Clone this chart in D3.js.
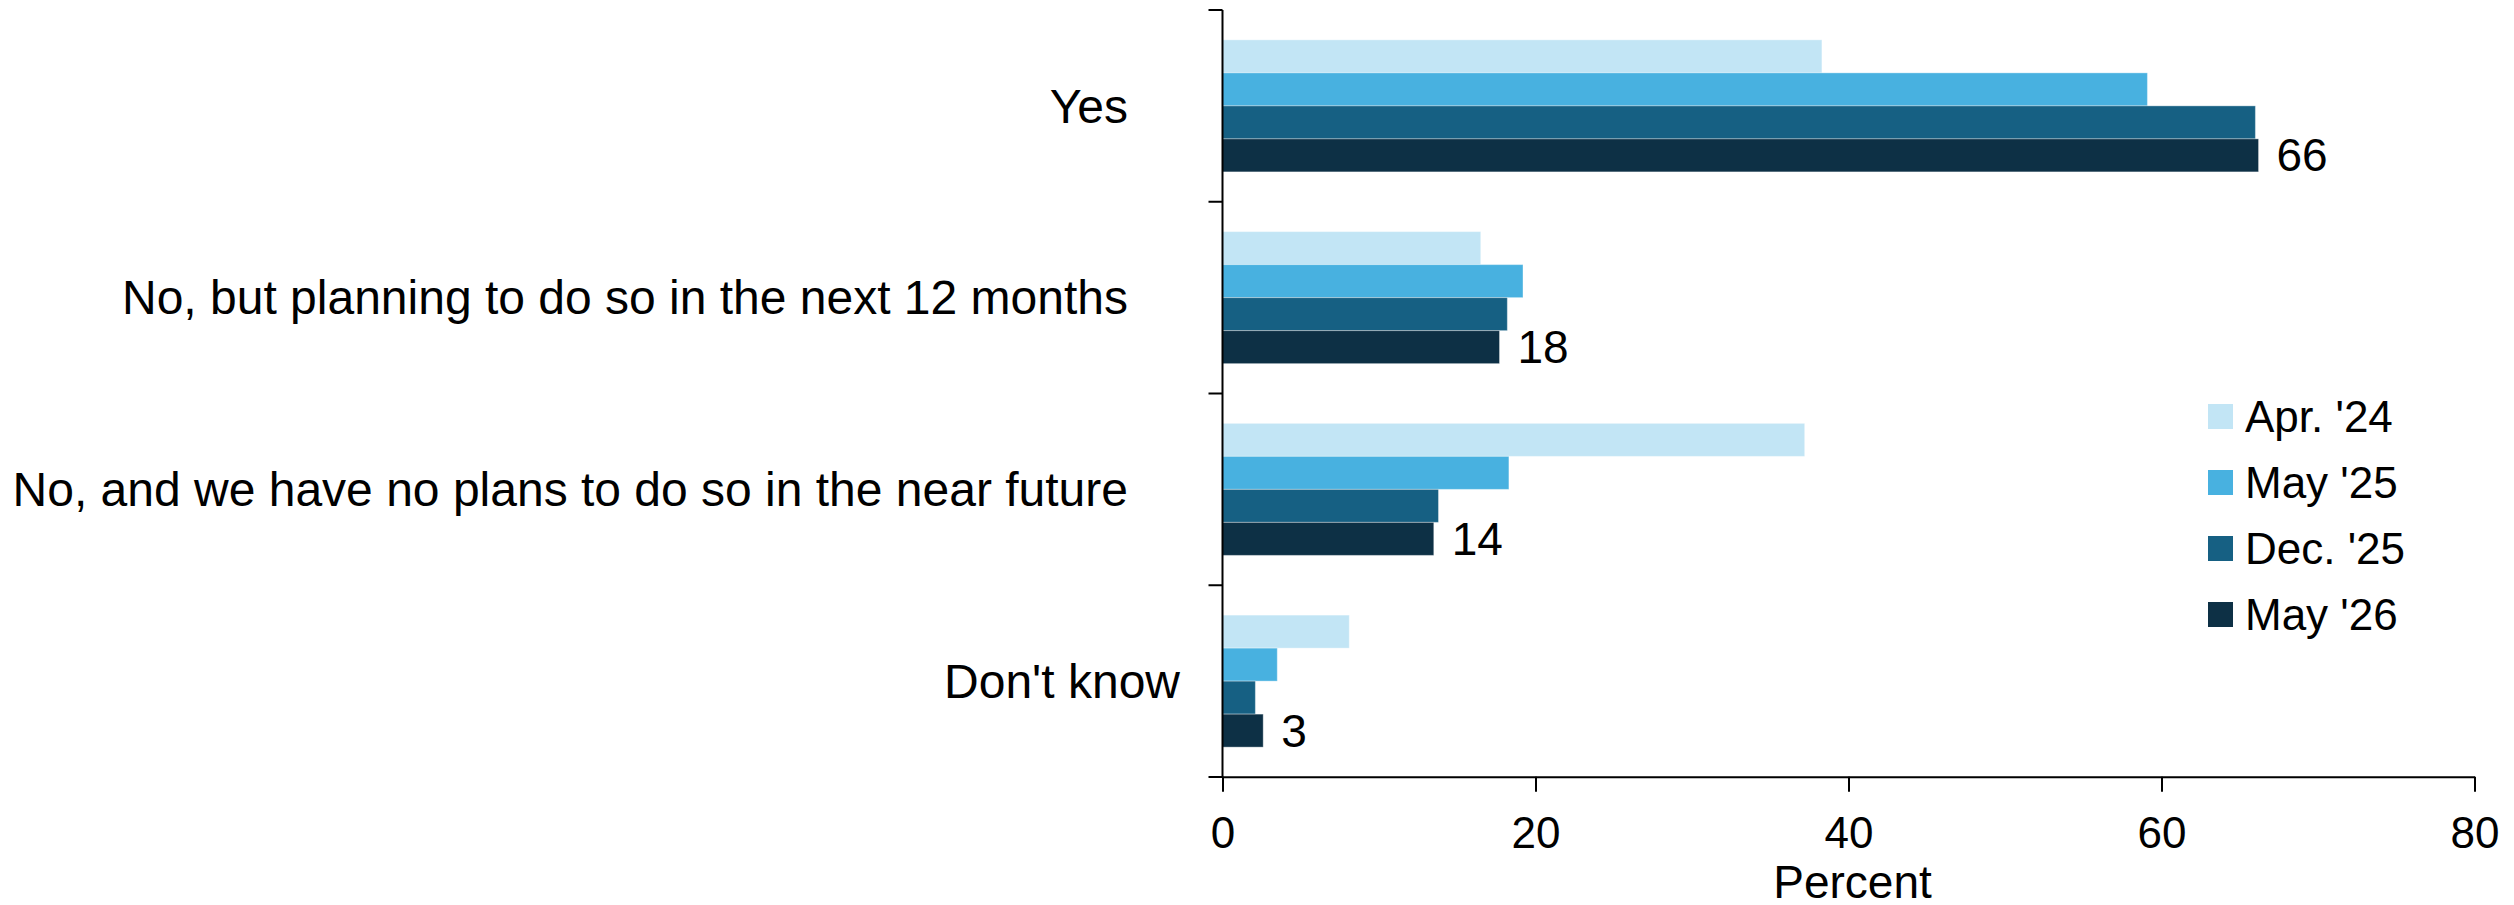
<!DOCTYPE html>
<html>
<head>
<meta charset="utf-8">
<script src="https://cdn.jsdelivr.net/npm/d3@7"></script>
<style>
  body { margin: 0; background: #fff; }
  text { font-family: "Liberation Sans", Arial, sans-serif; fill: #000; }
</style>
</head>
<body>
<script>
const categories = [
  "Yes",
  "No, but planning to do so in the next 12 months",
  "No, and we have no plans to do so in the near future",
  "Don't know"
];
const seriesNames = ["Apr. '24", "May '25", "Dec. '25", "May '26"];
const apr24 = [38.3, 16.5, 37.2, 8.1];
const may25 = [59.1, 19.2, 18.3, 3.5];
const dec25 = [66.0, 18.2, 13.8, 2.1];
const may26 = [66.2, 17.7, 13.5, 2.6];
const endLabels = ["66", "18", "14", "3"];
const xTicks = [0, 20, 40, 60, 80];
const colors = ["#c2e5f5", "#48b1e0", "#166083", "#0d3045"];

const seriesValues = [apr24, may25, dec25, may26];

const w = 2514;
const h = 905;

const svg = d3.select("body")
  .append("svg")
  .attr("width", w)
  .attr("height", h);

// Scales
const xScale = d3.scaleLinear()
  .domain([0, 80])
  .range([1222.5, 2474.5]);

const yScale = d3.scaleBand()
  .domain(categories)
  .range([10, 777])
  .padding(0);

const ySub = d3.scaleBand()
  .domain(seriesNames)
  .range([0, yScale.bandwidth()])
  .paddingInner(0)
  .paddingOuter(0.905);

// Bars
categories.forEach((cat, ci) => {
  const g = svg.append("g")
    .attr("transform", `translate(0, ${yScale(cat)})`);
  g.selectAll("rect")
    .data(seriesNames)
    .enter()
    .append("rect")
    .attr("x", xScale(0))
    .attr("y", (s) => ySub(s))
    .attr("width", (s, si) => xScale(seriesValues[si][ci]) - xScale(0))
    .attr("height", ySub.bandwidth())
    .attr("fill", (s, si) => colors[si])
    .attr("stroke", "#ffffff")
    .attr("stroke-opacity", 0.35)
    .attr("stroke-width", 1);

  // value label on the latest bar
  const last = seriesNames[seriesNames.length - 1];
  g.append("text")
    .attr("x", xScale(may26[ci]) + 18)
    .attr("y", ySub(last) + ySub.bandwidth() / 2)
    .attr("dy", "0.35em")
    .attr("font-size", 46)
    .text(endLabels[ci]);

  // category label
  svg.append("text")
    .attr("x", cat === "Don't know" ? 1180 : 1128)
    .attr("y", yScale(cat) + yScale.bandwidth() / 2)
    .attr("dy", "0.35em")
    .attr("text-anchor", "end")
    .attr("font-size", 48)
    .text(cat);
});

// X axis
const xAxis = d3.axisBottom(xScale)
  .tickValues(xTicks)
  .tickSize(15)
  .tickSizeOuter(0)
  .tickPadding(25);

const xg = svg.append("g")
  .attr("transform", `translate(0, 776.7)`)
  .call(xAxis);
xg.selectAll("path, line").attr("stroke", "#000").attr("stroke-width", 2);
xg.selectAll("text")
  .attr("font-size", 44)
  .attr("font-family", "Liberation Sans, Arial, sans-serif")
  .attr("fill", "#000");

// Y axis with ticks on category boundaries
const bounds = categories.map((c) => yScale(c)).concat([yScale.range()[1]]);
svg.append("line")
  .attr("x1", xScale(0)).attr("x2", xScale(0))
  .attr("y1", bounds[0]).attr("y2", bounds[bounds.length - 1])
  .attr("stroke", "#000").attr("stroke-width", 2);
svg.selectAll(".ytick")
  .data(bounds)
  .enter()
  .append("line")
  .attr("class", "ytick")
  .attr("x1", xScale(0) - 14).attr("x2", xScale(0))
  .attr("y1", (d) => d).attr("y2", (d) => d)
  .attr("stroke", "#000").attr("stroke-width", 2);

// Axis title
svg.append("text")
  .attr("x", xScale(40) + 4)
  .attr("y", 898)
  .attr("text-anchor", "middle")
  .attr("font-size", 46)
  .text("Percent");

// Legend
const legend = svg.append("g")
  .attr("transform", "translate(2208, 404)");
const item = legend.selectAll("g")
  .data(seriesNames)
  .enter()
  .append("g")
  .attr("transform", (d, i) => `translate(0, ${i * 66})`);
item.append("rect")
  .attr("width", 25)
  .attr("height", 25)
  .attr("fill", (d, i) => colors[i]);
item.append("text")
  .attr("x", 37)
  .attr("y", 12.5)
  .attr("dy", "0.35em")
  .attr("font-size", 44)
  .text((d) => d);
</script>
</body>
</html>
